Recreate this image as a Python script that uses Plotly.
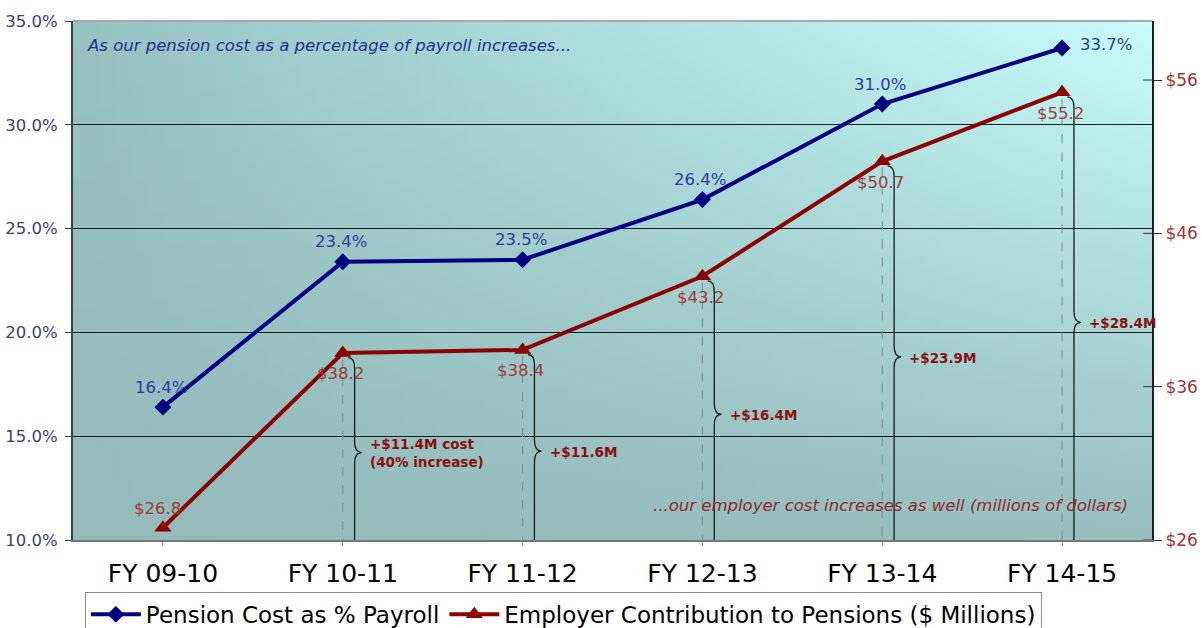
import base64
import struct
import zlib

import plotly.graph_objects as go

# ---- data ----
fiscal_years = ["FY 09-10", "FY 10-11", "FY 11-12", "FY 12-13", "FY 13-14", "FY 14-15"]
pension_pct = [16.4, 23.4, 23.5, 26.4, 31.0, 33.7]
employer_cost = [26.8, 38.2, 38.4, 43.2, 50.7, 55.2]
increase_labels = ["+$11.4M cost<br>(40% increase)", "+$11.6M", "+$16.4M", "+$23.9M", "+$28.4M"]
left_ticks = [10, 15, 20, 25, 30, 35]
right_ticks = [26, 36, 46, 56]

BLUE = "#000080"
RED = "#8B0000"
BLUE_TXT = "#2E3A9E"
RED_TXT = "#A03A3A"
BRACE_TXT = "#8B1010"
FONT = "DejaVu Sans, Verdana, sans-serif"


def gradient_png(w, h, tl, tr, bl, br):
    """Bilinear colour gradient encoded as a PNG data URI."""
    rows = []
    for j in range(h):
        fy = j / (h - 1)
        row = bytearray([0])
        for i in range(w):
            fx = i / (w - 1)
            for k in range(3):
                top = tl[k] * (1 - fx) + tr[k] * fx
                bot = bl[k] * (1 - fx) + br[k] * fx
                row.append(int(round(top * (1 - fy) + bot * fy)))
        rows.append(bytes(row))
    raw = b"".join(rows)

    def chunk(tag, data):
        c = struct.pack(">I", len(data)) + tag + data
        return c + struct.pack(">I", zlib.crc32(tag + data) & 0xFFFFFFFF)

    png = b"\x89PNG\r\n\x1a\n"
    png += chunk(b"IHDR", struct.pack(">IIBBBBB", w, h, 8, 2, 0, 0, 0))
    png += chunk(b"IDAT", zlib.compress(raw, 9))
    png += chunk(b"IEND", b"")
    return "data:image/png;base64," + base64.b64encode(png).decode()


bg = gradient_png(64, 64, (150, 194, 194), (200, 252, 252), (148, 186, 186), (152, 190, 190))

fig = go.Figure()

fig.add_trace(go.Scatter(
    x=fiscal_years, y=pension_pct, name="Pension Cost as % Payroll",
    mode="lines+markers", line=dict(color=BLUE, width=4),
    marker=dict(symbol="diamond", size=13, color=BLUE),
))
fig.add_trace(go.Scatter(
    x=fiscal_years, y=employer_cost, name="Employer Contribution to Pensions ($ Millions)",
    mode="lines+markers", line=dict(color=RED, width=4),
    marker=dict(symbol="triangle-up", size=15, color=RED), yaxis="y2",
))

annotations = []
# value labels for the percentage line
for i, v in enumerate(pension_pct):
    last = i == len(pension_pct) - 1
    annotations.append(dict(
        x=i, y=v, xref="x", yref="y", text=f"{v:.1f}%", showarrow=False,
        font=dict(family=FONT, size=16.5, color=BLUE_TXT),
        xshift=44 if last else -2, yshift=3 if last else 20,
    ))
# value labels for the employer cost line
for i, v in enumerate(employer_cost):
    first = i == 0
    annotations.append(dict(
        x=i, y=v, xref="x", yref="y2", text=f"${v:.1f}", showarrow=False,
        font=dict(family=FONT, size=16.5, color=RED_TXT),
        xshift=-5 if first else -2, yshift=19 if first else -21,
    ))

shapes = []
for i in range(1, len(employer_cost)):
    v = employer_cost[i]
    # dashed drop line from the marker to the axis
    shapes.append(dict(
        type="line", xref="x", yref="y2", x0=i, x1=i, y0=v - 0.4, y1=26,
        line=dict(color="#7F8A8A", width=1, dash="dash"),
    ))
    # curly brace spanning the increase over the first year
    top, bot = v - 0.3, 25.5
    mid = (top + bot) / 2
    r = 0.7
    x0, xm, x1 = i + 0.03, i + 0.066, i + 0.105
    path = (
        f"M {x0},{top} Q {xm},{top} {xm},{top - r} "
        f"L {xm},{mid + r} Q {xm},{mid} {x1},{mid} "
        f"Q {xm},{mid} {xm},{mid - r} "
        f"L {xm},{bot + r} Q {xm},{bot} {x0},{bot}"
    )
    shapes.append(dict(type="path", xref="x", yref="y2", path=path,
                       line=dict(color="#1A1A1A", width=1.3)))
    annotations.append(dict(
        x=i + 0.14, y=mid, xref="x", yref="y2", text=f"<b>{increase_labels[i - 1]}</b>",
        showarrow=False, xanchor="left", align="left",
        font=dict(family=FONT, size=13.5, color=BRACE_TXT),
        yshift=0 if i == 1 else -1,
    ))

# tick marks on the right axis reach a little into the plot as well
for t in right_ticks:
    shapes.append(dict(type="line", xref="paper", yref="y2", x0=0.992, x1=1, y0=t, y1=t,
                       line=dict(color="#303030", width=1)))

annotations.append(dict(
    x=0.011, y=0.952, xref="paper", yref="paper", xanchor="left", yanchor="middle",
    text="<i>As our pension cost as a percentage of payroll increases...</i>",
    showarrow=False, font=dict(family=FONT, size=16.5, color="#22308C"),
))
annotations.append(dict(
    x=0.98, y=0.067, xref="paper", yref="paper", xanchor="right", yanchor="middle",
    text="<i>...our employer cost increases as well (millions of dollars)</i>",
    showarrow=False, font=dict(family=FONT, size=16.5, color="#8E2A2A"),
))

fig.update_layout(
    width=1202, height=628,
    margin=dict(l=73, r=50, t=21, b=88, autoexpand=False),
    paper_bgcolor="white", plot_bgcolor="rgba(0,0,0,0)",
    font=dict(family=FONT),
    images=[dict(source=bg, xref="paper", yref="paper", x=0, y=1, sizex=1, sizey=1,
                 sizing="stretch", layer="below", xanchor="left", yanchor="top")],
    xaxis=dict(
        type="category", range=[-0.5, 5.5], showgrid=False,
        showline=True, linecolor="#6E7A7A", linewidth=2,
        ticks="outside", ticklen=4, tickcolor="#8A9A9A",
        tickfont=dict(family=FONT, size=25, color="black"),
        ticklabelstandoff=6, fixedrange=True,
    ),
    yaxis=dict(
        range=[10, 35], tickvals=left_ticks,
        ticktext=[f"{t:.1f}%" for t in left_ticks],
        tickfont=dict(family=FONT, size=16.5, color="#34476E"),
        showgrid=True, gridcolor="#1A1A1A", gridwidth=1,
        showline=True, linecolor="#404040", linewidth=2,
        ticks="outside", ticklen=6, tickcolor="#404040", zeroline=False,
        ticklabelstandoff=4,
    ),
    yaxis2=dict(
        range=[26, 59.85], overlaying="y", side="right",
        tickvals=right_ticks, ticktext=[f"${t}" for t in right_ticks],
        tickfont=dict(family=FONT, size=17, color="#A03535"),
        showgrid=False, showline=True, linecolor="#202020", linewidth=2,
        ticks="outside", ticklen=8, tickcolor="#303030", zeroline=False,
    ),
    legend=dict(
        orientation="h", x=0.011, y=-0.1, xanchor="left", yanchor="top",
        font=dict(family=FONT, size=23, color="black"),
        bordercolor="#8C8C8C", borderwidth=1, bgcolor="white",
        itemwidth=50, tracegroupgap=0,
    ),
    annotations=annotations, shapes=shapes, showlegend=True,
)

# thin gray frame along the top edge of the plot area
fig.add_shape(type="line", xref="paper", yref="paper", x0=0, x1=1, y0=1, y1=1,
              line=dict(color="#A8A8A8", width=2))

fig.write_html("out.html")
